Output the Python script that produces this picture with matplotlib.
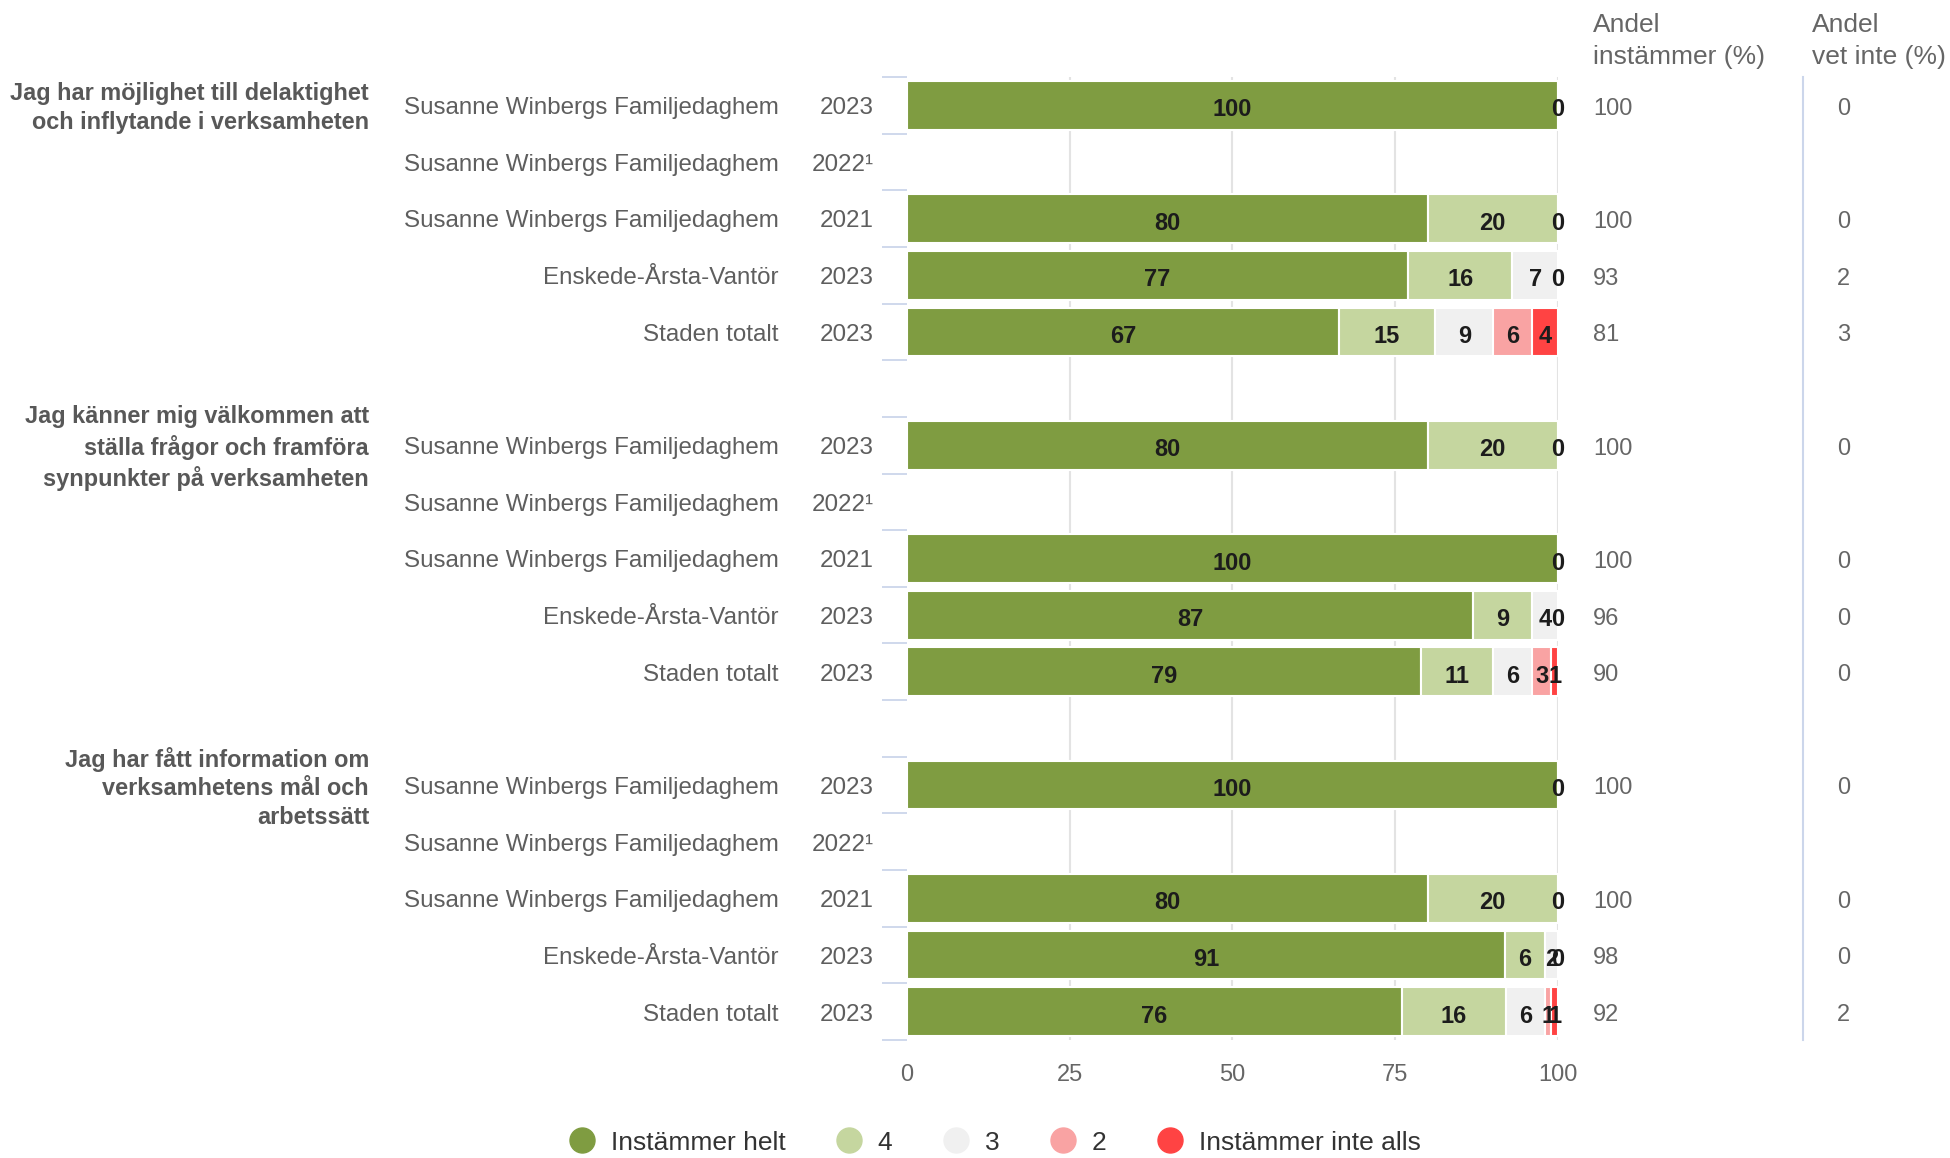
"""
    Stacked horizontal bar chart of survey answers (familjedaghem), three questions,
    with share agreeing / share "vet inte" columns to the right.
"""

import numpy as np
import matplotlib.pyplot as plt
from matplotlib.lines import Line2D

plt.rcParams['font.family'] = ['Liberation Sans', 'DejaVu Sans']

# data
questions = ["Jag har möjlighet till delaktighet\noch inflytande i verksamheten",
             "Jag känner mig välkommen att\nställa frågor och framföra\nsynpunkter på verksamheten",
             "Jag har fått information om\nverksamhetens mål och\narbetssätt"]
units = ["Susanne Winbergs Familjedaghem", "Susanne Winbergs Familjedaghem",
         "Susanne Winbergs Familjedaghem", "Enskede-Årsta-Vantör", "Staden totalt"]
years = ["2023", "2022¹", "2021", "2023", "2023"]

series_names = ["Instämmer helt", "4", "3", "2", "Instämmer inte alls"]
series_colors = ["#7f9c41", "#c5d69f", "#f0f0f0", "#f9a3a3", "#ff4343"]

# one value per row (3 questions x 5 rows), None = no data
helt = [100, None, 80, 77, 67,  80, None, 100, 87, 79,  100, None, 80, 91, 76]
fyra = [0, None, 20, 16, 15,    20, None, 0, 9, 11,     0, None, 20, 6, 16]
tre = [None, None, 0, 7, 9,     0, None, None, 4, 6,    None, None, 0, 2, 6]
tva = [None, None, None, 0, 6,  None, None, None, 0, 3, None, None, None, 0, 1]
ett = [None, None, None, None, 4, None, None, None, None, 1, None, None, None, None, 1]

andel_instammer = [100, None, 100, 93, 81,  100, None, 100, 96, 90,  100, None, 100, 98, 92]
andel_vet_inte = [0, None, 0, 2, 3,  0, None, 0, 0, 0,  0, None, 0, 0, 2]

series = [helt, fyra, tre, tva, ett]
n_rows = len(helt)

# y slot of each row: 5 rows per question plus an empty slot between questions
y_pos = np.array([(i // 5) * 6 + i % 5 for i in range(n_rows)])
n_slots = y_pos.max() + 1

fig = plt.figure(figsize=(19.5, 11.58), dpi=100)
ax = fig.add_axes([0.4651, 0.1019, 0.3338, 0.8316])

# percent stacking: scale each row to its total
totals = np.array([sum(s[i] for s in series if s[i] is not None) for i in range(n_rows)], dtype=float)

left = np.zeros(n_rows)
for name, vals, col in zip(series_names, series, series_colors):
    for i in range(n_rows):
        v = vals[i]
        if v is None or totals[i] == 0:
            continue
        w = v / totals[i] * 100
        ax.barh(y_pos[i], w, left=left[i], height=0.86, color=col,
                edgecolor="white", linewidth=1.5, zorder=2)
        ax.text(left[i] + w / 2, y_pos[i] + 0.08, str(v), ha="center", va="center",
                fontsize=17, fontweight="bold", color="#1c1c1c", zorder=3)
        left[i] += w

ax.set_xlim(0, 100)
ax.set_ylim(n_slots - 0.5, -0.5)

# x axis
ax.set_xticks([0, 25, 50, 75, 100])
ax.tick_params(axis="x", length=0, pad=17, labelsize=17, labelcolor="#666666")
for xv in [25, 50, 75, 100]:
    ax.axvline(xv, color="#e3e3e3", linewidth=1.5, zorder=1)

# y axis: only tick marks between categories
ax.set_yticks([])
ax.set_yticks(np.arange(-0.5, n_slots, 1.0), minor=True)
ax.tick_params(axis="y", which="minor", length=18, width=1.3, color="#ccd6eb", labelleft=False)
for sp in ax.spines.values():
    sp.set_visible(False)

trans = ax.get_yaxis_transform()
for i in range(n_rows):
    ax.text(-0.1966, y_pos[i] + 0.05, units[i % 5], transform=trans, ha="right", va="center",
            fontsize=17.4, color="#5e5e5e")
    ax.text(-0.0507, y_pos[i] + 0.05, years[i % 5], transform=trans, ha="right", va="center",
            fontsize=17.4, color="#5e5e5e")
    if andel_instammer[i] is not None:
        ax.text(1.0538, y_pos[i] + 0.06, str(andel_instammer[i]), transform=trans, ha="left",
                va="center", fontsize=17, color="#666666")
    if andel_vet_inte[i] is not None:
        ax.text(1.4286, y_pos[i] + 0.06, str(andel_vet_inte[i]), transform=trans, ha="left",
                va="center", fontsize=17, color="#666666")

for g, q in enumerate(questions):
    ax.text(-0.8264, g * 6 + 0.05, q, transform=trans, ha="right", va="center", ma="right",
            fontsize=16.9, fontweight="bold", color="#585858", linespacing=1.31)

# separator between the two right columns
ax.plot([1.376, 1.376], [0, 1], transform=ax.transAxes, color="#ccd6eb",
        linewidth=1.5, clip_on=False)

# column headers
fig.text(1593 / 1950, 1 - 13 / 1158, "Andel\ninstämmer (%)", ha="left", va="top",
         fontsize=19, color="#666666", linespacing=1.42)
fig.text(1812 / 1950, 1 - 13 / 1158, "Andel\nvet inte (%)", ha="left", va="top",
         fontsize=19, color="#666666", linespacing=1.42)

# legend
handles = [Line2D([], [], marker="o", linestyle="none", markersize=18,
                  markerfacecolor=c, markeredgecolor=c) for c in series_colors]
fig.legend(handles, series_names, loc="center", bbox_to_anchor=(0.51, 0.0133),
           ncol=5, frameon=False, fontsize=19, handlelength=1.0, handletextpad=0.6,
           columnspacing=1.9, labelcolor="#333333")

fig.savefig("out.png", dpi=100)
